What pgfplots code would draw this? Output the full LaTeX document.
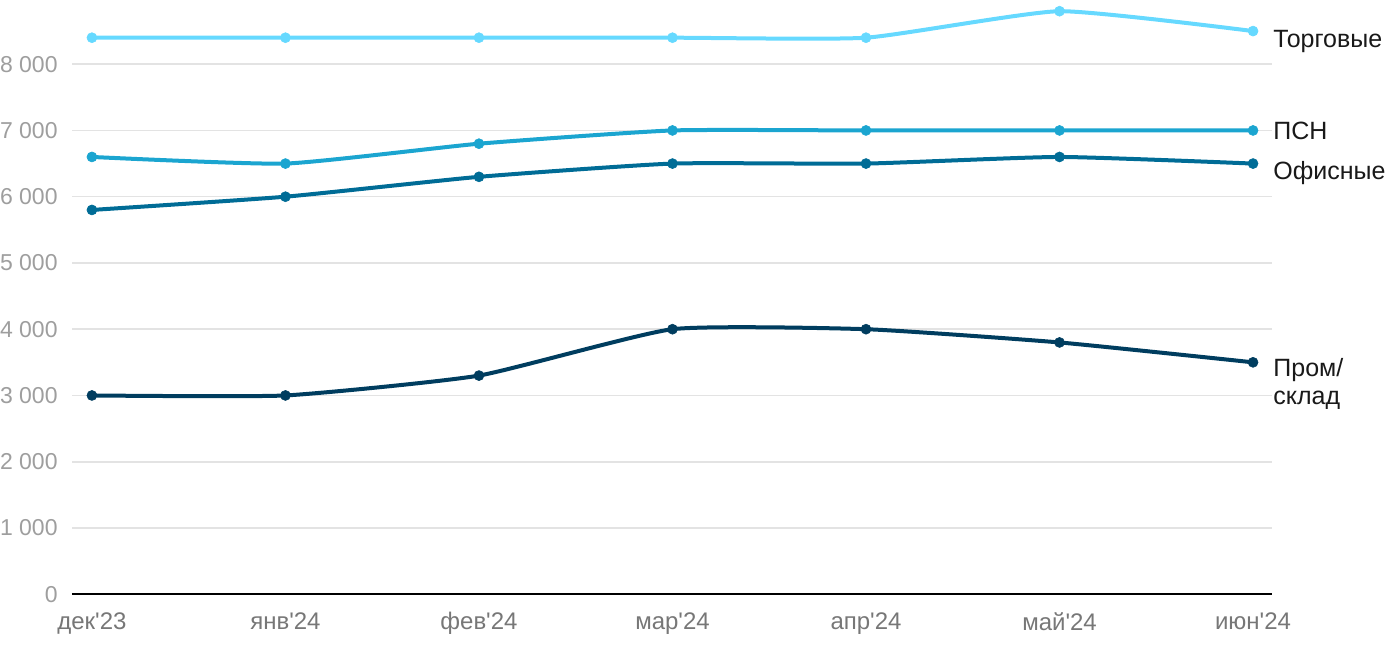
\documentclass[border=0pt]{standalone}
\usepackage{pgfplots}
\pgfplotsset{compat=1.18}
\usepackage{fontspec}
\setmainfont{Liberation Sans}
\definecolor{ctorg}{HTML}{66D9FF}
\definecolor{cpsn}{HTML}{1BA5D0}
\definecolor{coff}{HTML}{006C96}
\definecolor{cprom}{HTML}{003D5F}
\definecolor{cgrid}{HTML}{E3E3E3}
\definecolor{cytl}{HTML}{9E9E9E}
\definecolor{cxtl}{HTML}{777777}
\newcommand{\q}{\textquotesingle}
\begin{document}
\begin{tikzpicture}
\begin{axis}[
  scale only axis,
  width=600pt, height=297pt,
  xmin=-0.103, xmax=6.098,
  ymin=0, ymax=8966,
  axis line style={draw=none},
  xtick={0,...,6},
  xticklabels={дек\q23,янв\q24,фев\q24,мар\q24,апр\q24,май\q24,июн\q24},
  ytick={0,1000,...,8000},
  ymajorgrids,
  grid style={cgrid, line width=0.8pt},
  major tick length=0pt,
  yticklabel style={font=\fontsize{11.5}{13}\selectfont, text=cytl, inner xsep=0pt, xshift=-7pt},
  xticklabel style={font=\fontsize{12}{13}\selectfont, text=cxtl, inner ysep=0pt, yshift=-9pt},
  /pgf/number format/assume math mode=true,
  /pgf/number format/1000 sep={\ },
  clip=false,
  every axis plot/.append style={line width=2pt, smooth, tension=0.3, mark=*, mark size=2.5pt, mark options={line width=0.3pt}},
]
\path[draw=none] ([xshift=-36pt,yshift=-28pt]rel axis cs:0,0) rectangle ([xshift=64pt]rel axis cs:1,1);
\draw[black, line width=1pt] (axis cs:-0.103,0) -- (axis cs:6.098,0);
\addplot[color=ctorg] coordinates {(0,8400) (1,8400) (2,8400) (3,8400) (4,8400) (5,8800) (6,8500)};
\addplot[color=cpsn] coordinates {(0,6600) (1,6500) (2,6800) (3,7000) (4,7000) (5,7000) (6,7000)};
\addplot[color=coff] coordinates {(0,5800) (1,6000) (2,6300) (3,6500) (4,6500) (5,6600) (6,6500)};
\addplot[color=cprom] coordinates {(0,3000) (1,3000) (2,3300) (3,4000) (4,4000) (5,3800) (6,3500)};
\node[anchor=west, font=\fontsize{12.5}{14}\selectfont, text=black!90, inner sep=0pt, xshift=10pt] at (axis cs:6,8350) {Торговые};
\node[anchor=west, font=\fontsize{12.5}{14}\selectfont, text=black!90, inner sep=0pt, xshift=10pt, fill=white] at (axis cs:6,7000) {ПСН};
\node[anchor=west, font=\fontsize{12.5}{14}\selectfont, text=black!90, inner sep=0pt, xshift=10pt] at (axis cs:6,6350) {Офисные};
\node[anchor=west, font=\fontsize{12.5}{14}\selectfont, text=black!90, inner sep=0pt, xshift=10pt, align=left] at (axis cs:6,3170) {Пром/\\склад};
\end{axis}
\end{tikzpicture}
\end{document}
